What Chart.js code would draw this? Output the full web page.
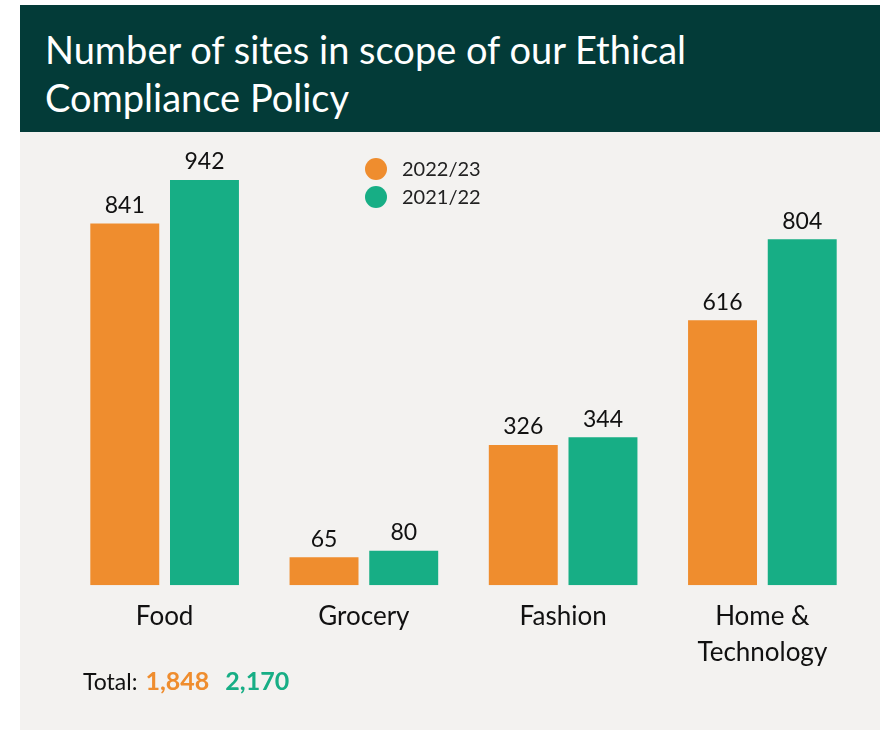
<!DOCTYPE html>
<html>
<head>
<meta charset="utf-8">
<script src="https://cdn.jsdelivr.net/npm/chart.js@4"></script>
<style>
    body { margin: 0; background: #fff; font-family: Lato, "Open Sans", sans-serif; }
    #panel { position: absolute; left: 20px; top: 5px; width: 860px; height: 725px; background: #f3f2f0; }
    #title { height: 127px; background: #033b38; color: #fff; font-size: 38px; line-height: 48px;
             padding: 20px 0 0 25px; box-sizing: border-box; font-weight: 400; }
    #wrap { position: absolute; left: 0; top: 127px; width: 860px; height: 544px; }
    .leg { position: absolute; left: 345px; font-size: 20px; color: #222; height: 28px; line-height: 28px; }
    .leg span { display: inline-block; width: 22px; height: 22px; border-radius: 50%; vertical-align: middle;
                margin-right: 15px; position: relative; top: -2px; }
    #total { position: absolute; left: 63px; top: 660px; font-size: 23px; color: #111; }
    #total b { margin-left: 8px; font-size: 25px; }
</style>
</head>
<body>
<div id="panel">
    <div id="title">Number of sites in scope of our Ethical<br>Compliance Policy</div>
    <div id="wrap"><canvas id="chart"></canvas></div>
    <div id="legend"></div>
    <div id="total"></div>
</div>

<script>
    var categories = ["Food", "Grocery", "Fashion", ["Home &", "Technology"]];
    var seriesNames = ["2022/23", "2021/22"];
    var sites2223 = [841, 65, 326, 616];
    var sites2122 = [942, 80, 344, 804];
    var colors = ["#ef8d2e", "#17ae85"];

    // legend + totals
    var legend = document.getElementById('legend');
    seriesNames.forEach(function (name, i) {
        var d = document.createElement('div');
        d.className = 'leg';
        d.style.top = (149 + i * 28) + 'px';
        d.innerHTML = '<span style="background:' + colors[i] + '"></span>' + name;
        legend.appendChild(d);
    });
    function sum(a) { return a.reduce(function (s, v) { return s + v; }, 0); }
    document.getElementById('total').innerHTML = 'Total:'
        + '<b style="color:' + colors[0] + '">' + sum(sites2223).toLocaleString('en-GB') + '</b>'
        + '<b style="color:' + colors[1] + ';margin-left:16px">' + sum(sites2122).toLocaleString('en-GB') + '</b>';

    var valueLabels = {
        id: 'valueLabels',
        afterDatasetsDraw(chart) {
            var ctx = chart.ctx;
            ctx.save();
            ctx.font = '23px Lato, sans-serif';
            ctx.fillStyle = '#111';
            ctx.textAlign = 'center';
            ctx.textBaseline = 'middle';
            chart.data.datasets.forEach(function (ds, i) {
                chart.getDatasetMeta(i).data.forEach(function (bar, j) {
                    ctx.fillText(ds.data[j], bar.x, bar.y - 18);
                });
            });
            ctx.restore();
        }
    };

    new Chart(document.getElementById('chart'), {
        type: 'bar',
        data: {
            labels: categories,
            datasets: [
                { label: seriesNames[0], data: sites2223, backgroundColor: colors[0] },
                { label: seriesNames[1], data: sites2122, backgroundColor: colors[1] }
            ]
        },
        options: {
            responsive: true,
            maintainAspectRatio: false,
            animation: false,
            categoryPercentage: 0.8,
            barPercentage: 0.865,
            layout: { padding: { top: 23, left: 45, right: 18, bottom: 0 } },
            plugins: { legend: { display: false }, tooltip: { enabled: false } },
            scales: {
                y: { display: false, min: 0, max: 1000 },
                x: {
                    grid: { display: false },
                    border: { display: false },
                    ticks: { color: '#111', padding: 5, font: { size: 26, family: 'Lato', lineHeight: 1.4 } }
                }
            }
        },
        plugins: [valueLabels]
    });
</script>
</body>
</html>
